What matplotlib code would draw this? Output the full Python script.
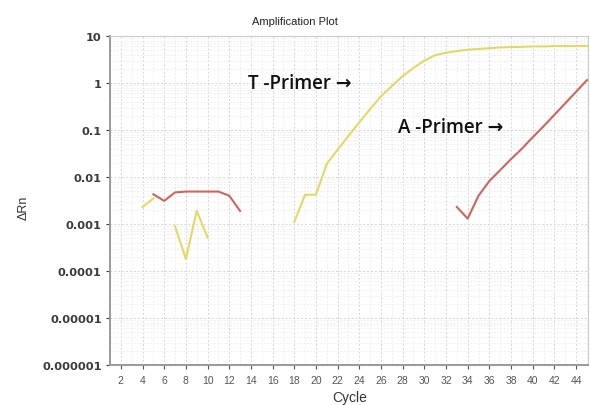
import matplotlib
matplotlib.use("Agg")
import matplotlib.pyplot as plt
from matplotlib.ticker import FixedLocator, LogLocator, NullFormatter

# ---- data ----
t_seg1_cycles = [4, 5]
t_seg1_values = [0.0023, 0.0035]
t_seg2_cycles = [7, 8, 9, 10]
t_seg2_values = [0.00089, 0.00018, 0.0019, 0.00052]
t_seg3_cycles = list(range(18, 46))
t_seg3_values = [0.0011, 0.0042, 0.0042, 0.019, 0.038, 0.075, 0.145, 0.28,
                 0.52, 0.86, 1.4, 2.1, 3.0, 3.9, 4.4, 4.8, 5.1, 5.3, 5.5,
                 5.7, 5.8, 5.9, 6.0, 6.0, 6.1, 6.1, 6.1, 6.1]
a_seg1_cycles = [5, 6, 7, 8, 9, 10, 11, 12, 13]
a_seg1_values = [0.0043, 0.0031, 0.0047, 0.0049, 0.0049, 0.0049, 0.0049, 0.0040, 0.0019]
a_seg2_cycles = list(range(33, 46))
a_seg2_values = [0.0023, 0.0013, 0.004, 0.0082, 0.014, 0.024, 0.04, 0.07,
                 0.12, 0.21, 0.37, 0.65, 1.15]
x_ticks = list(range(2, 46, 2))
y_ticks = [1e-6, 1e-5, 1e-4, 1e-3, 1e-2, 1e-1, 1, 10]
y_tick_labels = ["0.000001", "0.00001", "0.0001", "0.001", "0.01", "0.1", "1", "10"]

yellow = "#e2d964"
red = "#d0645c"

plt.rcParams["font.family"] = ["Liberation Sans", "DejaVu Sans"]

fig = plt.figure(figsize=(5.9, 4.06), dpi=100)
ax = fig.add_axes([110/590, 1-366/406, 478/590, 329/406])

for cx, cy in [(t_seg1_cycles, t_seg1_values), (t_seg2_cycles, t_seg2_values),
               (t_seg3_cycles, t_seg3_values)]:
    ax.plot(cx, cy, color=yellow, lw=1.5, zorder=3)
for cx, cy in [(a_seg1_cycles, a_seg1_values), (a_seg2_cycles, a_seg2_values)]:
    ax.plot(cx, cy, color=red, lw=1.5, zorder=3)

ax.set_yscale("log")
ax.set_xlim(1, 45.1)
ax.set_ylim(1e-6, 10)
ax.set_xticks(x_ticks)
ax.set_xticklabels([str(t) for t in x_ticks])
ax.xaxis.set_minor_locator(FixedLocator(list(range(1, 46))))
ax.set_yticks(y_ticks)
ax.set_yticklabels(y_tick_labels)
ax.yaxis.set_minor_locator(LogLocator(base=10, subs=range(2, 10), numticks=20))
ax.yaxis.set_minor_formatter(NullFormatter())

ax.grid(which="major", axis="both", color="#d6d6d6", lw=0.7, ls=(0, (2, 2)))
ax.grid(which="minor", axis="both", color="#ebebeb", lw=0.6, ls=(0, (2, 2)))
ax.set_axisbelow(True)

ax.tick_params(axis="both", which="major", length=3, width=0.8, pad=3)
ax.tick_params(axis="y", which="major", colors="#3a3a3a")
ax.tick_params(axis="x", which="major", labelsize=7.5, colors="#555555", pad=4)
ax.tick_params(axis="both", which="minor", length=0)
for lab in ax.get_yticklabels():
    lab.set_family("DejaVu Sans")
    lab.set_fontweight("bold")
    lab.set_fontsize(8.2)
for s in ["left", "bottom"]:
    ax.spines[s].set_color("#9a9a9a")
    ax.spines[s].set_linewidth(1.4)
for s in ["top", "right"]:
    ax.spines[s].set_color("#cccccc")
    ax.spines[s].set_linewidth(0.8)

fig.text(0.5, 1-22/406, "Amplification Plot", ha="center", va="center",
         fontsize=8, color="#222222")
fig.text(350/590, 1-398/406, "Cycle", ha="center", va="center",
         fontsize=10, color="#333333")
fig.text(24/590, 1-208/406, "ΔRn", ha="center", va="center", rotation=90,
         fontsize=9, color="#333333")

ax.text(0.289, 0.857, "T -Primer →", transform=ax.transAxes, ha="left",
        va="center", fontsize=13.5, fontweight="semibold",
        family=["Open Sans", "DejaVu Sans"], color="#111111")
ax.text(0.6025, 0.723, "A -Primer →", transform=ax.transAxes, ha="left",
        va="center", fontsize=13.5, fontweight="semibold",
        family=["Open Sans", "DejaVu Sans"], color="#111111")

fig.savefig("out.png", dpi=100)
